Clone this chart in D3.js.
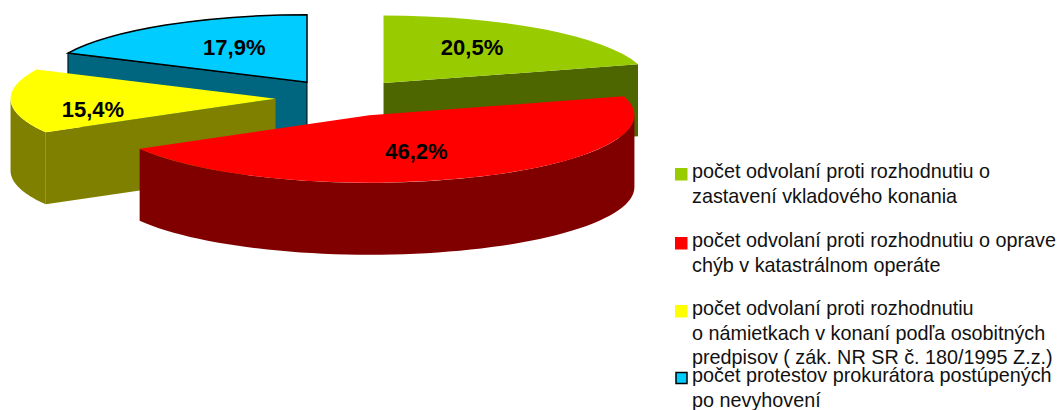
<!DOCTYPE html>
<html>
<head>
<meta charset="utf-8">
<script src="https://cdn.jsdelivr.net/npm/d3@7"></script>
<style>
  body { margin: 0; background: #fff; }
  text { font-family: "Liberation Sans", Arial, sans-serif; }
</style>
</head>
<body>
<svg width="1061" height="410"></svg>
<script>
var values = [20.5, 46.2, 15.4, 17.9];
var valueLabels = ["20,5%", "46,2%", "15,4%", "17,9%"];
var topColors = ["#99cc00", "#ff0000", "#ffff00", "#00ccff"];
var wallColors = ["#4d6600", "#800000", "#808000", "#006680"];
var outlines = ["none", "none", "none", "#000"];
var legendLines = [
  ["počet odvolaní proti rozhodnutiu o", "zastavení vkladového konania"],
  ["počet odvolaní proti rozhodnutiu o oprave", "chýb v katastrálnom operáte"],
  ["počet odvolaní proti rozhodnutiu", "o námietkach v konaní podľa osobitných", "predpisov ( zák. NR SR č. 180/1995 Z.z.)"],
  ["počet protestov prokurátora postúpených", "po nevyhovení"]
];

var svg = d3.select("svg");

// the pie is flat, the tilt squashes it and depth pulls it down
var radius = 265,
    tilt = 0.255,
    explodeTilt = 0.276,
    explode = 67.5,
    depth = 72,
    cx = 343,
    cy = 98;

var pie = d3.pie().sort(null);
var slices = pie(values);
var arc = d3.arc().innerRadius(0).outerRadius(radius);

slices.forEach(function(d) {
  var mid = (d.startAngle + d.endAngle) / 2;
  d.cx = cx + explode * Math.sin(mid);
  d.cy = cy - explode * explodeTilt * Math.cos(mid);
  d.mid = mid;
});

function rim(d, a) {
  return { x: d.cx + radius * Math.sin(a), y: d.cy - radius * tilt * Math.cos(a) };
}

var wall = d3.area()
    .x(function(p) { return p.x; })
    .y0(function(p) { return p.y; })
    .y1(function(p) { return p.y + depth; });

// only the faces which look at the viewer
function faces(d) {
  var out = [];
  if (Math.sin(d.startAngle) < -1e-6) out.push([{ x: d.cx, y: d.cy }, rim(d, d.startAngle)]);
  if (Math.sin(d.endAngle) > 1e-6) out.push([{ x: d.cx, y: d.cy }, rim(d, d.endAngle)]);
  var a0 = Math.max(d.startAngle, Math.PI / 2),
      a1 = Math.min(d.endAngle, Math.PI * 1.5);
  if (a1 > a0) {
    out.push(d3.range(0, 61).map(function(i) { return rim(d, a0 + (a1 - a0) * i / 60); }));
  }
  return out;
}

var order = [3, 2, 0, 1];

var slice = svg.selectAll("g.slice")
    .data(order.map(function(i) { return slices[i]; }))
  .enter().append("g")
    .attr("class", "slice");

slice.selectAll("path.wall")
    .data(function(d) { return faces(d).map(function(f) { return { face: f, i: d.index }; }); })
  .enter().append("path")
    .attr("class", "wall")
    .attr("d", function(f) { return wall(f.face); })
    .attr("fill", function(f) { return wallColors[f.i]; })
    .attr("stroke", function(f) { return outlines[f.i]; })
    .attr("stroke-width", 1);

slice.append("path")
    .attr("d", arc)
    .attr("transform", function(d) { return "translate(" + d.cx + "," + d.cy + ") scale(1," + tilt + ")"; })
    .attr("fill", function(d) { return topColors[d.index]; })
    .attr("stroke", function(d) { return outlines[d.index]; })
    .attr("stroke-width", 1.5)
    .attr("vector-effect", "non-scaling-stroke");

// value labels sit at about half radius, then nudged by hand
var labelNudge = [[1, -6], [-10, 2], [-37, 9], [5, -4]];

svg.selectAll("text.value")
    .data(slices)
  .enter().append("text")
    .attr("class", "value")
    .attr("text-anchor", "middle")
    .attr("font-size", 22)
    .attr("font-weight", "bold")
    .attr("x", function(d) { return rim({ cx: d.cx, cy: d.cy }, d.mid).x * 0.55 + d.cx * 0.45 + labelNudge[d.index][0]; })
    .attr("y", function(d) { return rim({ cx: d.cx, cy: d.cy }, d.mid).y * 0.55 + d.cy * 0.45 + 8 + labelNudge[d.index][1]; })
    .text(function(d) { return valueLabels[d.index]; });

// legend
var legendBase = [178, 247, 315, 382];

var legend = svg.selectAll("g.legend")
    .data(legendLines)
  .enter().append("g")
    .attr("class", "legend")
    .attr("transform", function(d, i) { return "translate(0," + legendBase[i] + ")"; });

legend.append("rect")
    .attr("x", function(d, i) { return i == 3 ? 676 : 675; })
    .attr("y", function(d, i) { return i == 3 ? -9.5 : -10; })
    .attr("width", function(d, i) { return i == 3 ? 11 : 12.5; })
    .attr("height", function(d, i) { return i == 3 ? 11 : 12.5; })
    .attr("fill", function(d, i) { return topColors[i]; })
    .attr("stroke", function(d, i) { return outlines[i]; })
    .attr("stroke-width", 1.5);

legend.selectAll("text")
    .data(function(d) { return d; })
  .enter().append("text")
    .attr("x", 692)
    .attr("y", function(d, i) { return i * 24.5; })
    .attr("font-size", 19.8)
    .attr("fill", "#111")
    .text(function(d) { return d; });
</script>
</body>
</html>
